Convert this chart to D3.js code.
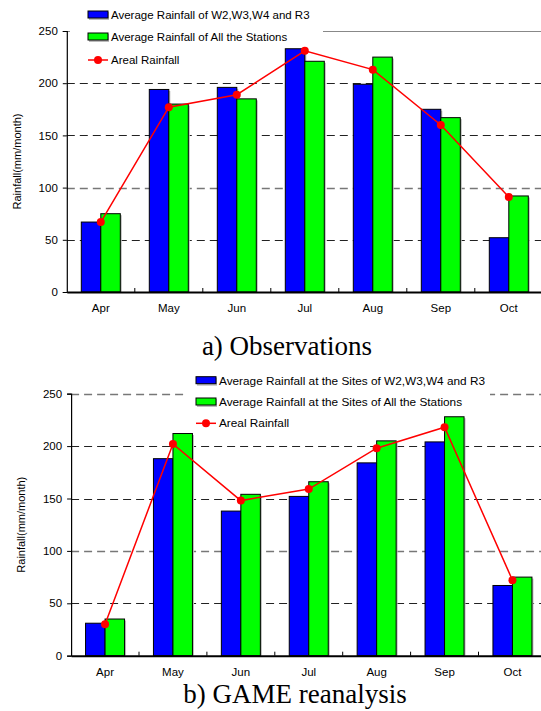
<!DOCTYPE html>
<html>
<head>
<meta charset="utf-8">
<script src="https://cdn.jsdelivr.net/npm/d3@7"></script>
<style>
  body { margin: 0; background: #fff; }
  svg { display: block; }
</style>
</head>
<body>
<script>
// data
const months = ["Apr", "May", "Jun", "Jul", "Aug", "Sep", "Oct"];
const yTicks = [0, 50, 100, 150, 200, 250];

const obsSubset = [67, 194, 196, 233, 199, 175, 52];
const obsAll = [75, 180, 185, 221, 225, 167, 92];
const obsAreal = [67, 177, 189, 231, 213, 160, 91];

const gameSubset = [31, 188, 138, 152, 184, 204, 67];
const gameAll = [35, 212, 154, 166, 205, 228, 75];
const gameAreal = [30, 202, 148, 159, 198, 218, 72];

const obsLegend = ["Average Rainfall of W2,W3,W4 and R3", "Average Rainfall of All the Stations", "Areal Rainfall"];
const gameLegend = ["Average Rainfall at the Sites of W2,W3,W4 and R3", "Average Rainfall at the Sites of All the Stations", "Areal Rainfall"];

const width = 541;
const height = 711;
const sans = "'Liberation Sans', Arial, sans-serif";
const serif = "'Liberation Serif', 'Times New Roman', serif";

const svg = d3.select("body").append("svg")
    .attr("width", width)
    .attr("height", height)
    .style("font-family", sans);

function drawPanel(p) {
  const x = d3.scaleBand().domain(months).range([p.left, p.right]).padding(0);
  const y = d3.scaleLinear().domain([0, 250]).range([p.bottom, p.top]);
  const sub = d3.scaleBand().domain(["s", "a"])
      .range([x.bandwidth() / 2 - 19.5, x.bandwidth() / 2 + 19.5]);

  const g = svg.append("g");

  // gridlines
  g.selectAll(".grid")
    .data(yTicks.filter(d => d > 0 && (d < 250 || p.dashedTop)))
    .join("line")
      .attr("x1", p.left).attr("x2", p.right)
      .attr("y1", d => Math.round(y(d)) + 0.5).attr("y2", d => Math.round(y(d)) + 0.5)
      .attr("stroke", d => d === 100 || d === 250 ? "#777" : "#222")
      .attr("stroke-width", d => d === 100 || d === 250 ? 1.6 : 1)
      .attr("stroke-dasharray", "8,5");
  if (!p.dashedTop) {
    g.append("line")
      .attr("x1", p.left).attr("x2", p.right)
      .attr("y1", Math.round(y(250)) + 0.5).attr("y2", Math.round(y(250)) + 0.5)
      .attr("stroke", "#888");
  }

  // legend background sits over the gridlines but under the data
  g.append("rect")
    .attr("x", p.legend.x0).attr("y", p.legend.y0)
    .attr("width", p.legend.x1 - p.legend.x0).attr("height", p.legend.y1 - p.legend.y0)
    .attr("fill", "#fff");

  // bars
  const series = [
    { key: "s", values: p.subset, color: "#0000ff" },
    { key: "a", values: p.all, color: "#00ff00" }
  ];
  series.forEach(s => {
    const bars = g.append("g").selectAll("g")
      .data(months.map((m, i) => ({ m, v: s.values[i] })))
      .join("g");
    bars.append("rect")
      .attr("x", d => x(d.m) + sub(s.key) + 1.5)
      .attr("y", d => y(d.v) + 1.5)
      .attr("width", sub.bandwidth())
      .attr("height", d => y(0) - y(d.v) - 1.5)
      .attr("fill", "#bbb");
    bars.append("rect")
      .attr("x", d => x(d.m) + sub(s.key))
      .attr("y", d => y(d.v))
      .attr("width", sub.bandwidth())
      .attr("height", d => y(0) - y(d.v))
      .attr("fill", s.color)
      .attr("stroke", "#000")
      .attr("stroke-width", 1);
  });

  // areal rainfall line
  const line = d3.line()
    .x((d, i) => x(months[i]) + x.bandwidth() / 2)
    .y(d => y(d));
  g.append("path")
    .datum(p.areal)
    .attr("d", line)
    .attr("fill", "none")
    .attr("stroke", "#ff0000")
    .attr("stroke-width", 1.5);
  g.selectAll(".dot")
    .data(p.areal)
    .join("circle")
      .attr("cx", (d, i) => x(months[i]) + x.bandwidth() / 2)
      .attr("cy", d => y(d))
      .attr("r", 4)
      .attr("fill", "#ff0000");

  // axes
  const yAxis = g.append("g")
    .attr("transform", `translate(${p.left},0)`)
    .call(d3.axisLeft(y).tickValues(yTicks).tickSize(4).tickPadding(5));
  yAxis.select(".domain").attr("stroke-width", 1.2);
  yAxis.selectAll("text").attr("font-size", 11.5).attr("font-family", sans);

  const xAxis = g.append("g")
    .attr("transform", `translate(0,${p.bottom})`)
    .call(d3.axisBottom(x).tickSize(0).tickPadding(12));
  xAxis.select(".domain").attr("stroke-width", 2);
  xAxis.selectAll("text").attr("font-size", 11.5).attr("font-family", sans);
  // small inward ticks between months
  g.selectAll(".xt")
    .data(months.slice(1))
    .join("line")
      .attr("x1", d => x(d)).attr("x2", d => x(d))
      .attr("y1", p.bottom).attr("y2", p.bottom - 4)
      .attr("stroke", "#000");

  // y label
  g.append("text")
    .attr("transform", `translate(${p.ylabelX},${(p.top + p.bottom) / 2}) rotate(-90)`)
    .attr("text-anchor", "middle")
    .attr("dy", "0.35em")
    .attr("font-size", 11)
    .text("Rainfall(mm/month)");

  // legend entries
  const lg = g.append("g");
  const sx = p.legend.sx;
  p.legend.labels.forEach((label, i) => {
    const cy = p.legend.ys[i];
    if (i < 2) {
      lg.append("rect")
        .attr("x", sx + 1).attr("y", cy - 3).attr("width", 20).attr("height", 8)
        .attr("fill", "#bbb");
      lg.append("rect")
        .attr("x", sx).attr("y", cy - 4).attr("width", 20).attr("height", 7)
        .attr("fill", i === 0 ? "#0000ff" : "#00ff00")
        .attr("stroke", "#000");
    } else {
      lg.append("line")
        .attr("x1", sx).attr("x2", sx + 20).attr("y1", cy).attr("y2", cy)
        .attr("stroke", "#ff0000").attr("stroke-width", 1.5);
      lg.append("circle")
        .attr("cx", sx + 10).attr("cy", cy).attr("r", 4).attr("fill", "#ff0000");
    }
    lg.append("text")
      .attr("x", sx + 23).attr("y", cy)
      .attr("dy", "0.35em")
      .attr("font-size", p.legend.fontSize)
      .text(label);
  });

  // caption
  svg.append("text")
    .attr("x", p.captionX).attr("y", p.captionY)
    .attr("text-anchor", "middle")
    .style("font-family", serif)
    .attr("font-size", 27)
    .text(p.caption);
}

drawPanel({
  left: 66.8, right: 542.8, top: 31, bottom: 292,
  subset: obsSubset, all: obsAll, areal: obsAreal,
  dashedTop: false, ylabelX: 17,
  legend: { x0: 70, x1: 323, y0: 2, y1: 70, sx: 88, ys: [15, 37, 60], labels: obsLegend, fontSize: 11.5 },
  caption: "a) Observations", captionX: 287, captionY: 355
});

drawPanel({
  left: 71.1, right: 546.4, top: 393.7, bottom: 655.7,
  subset: gameSubset, all: gameAll, areal: gameAreal,
  dashedTop: true, ylabelX: 21.5,
  legend: { x0: 188, x1: 490, y0: 370, y1: 433, sx: 196, ys: [380.7, 402, 423.3], labels: gameLegend, fontSize: 11.8 },
  caption: "b) GAME reanalysis", captionX: 295, captionY: 703
});
</script>
</body>
</html>
